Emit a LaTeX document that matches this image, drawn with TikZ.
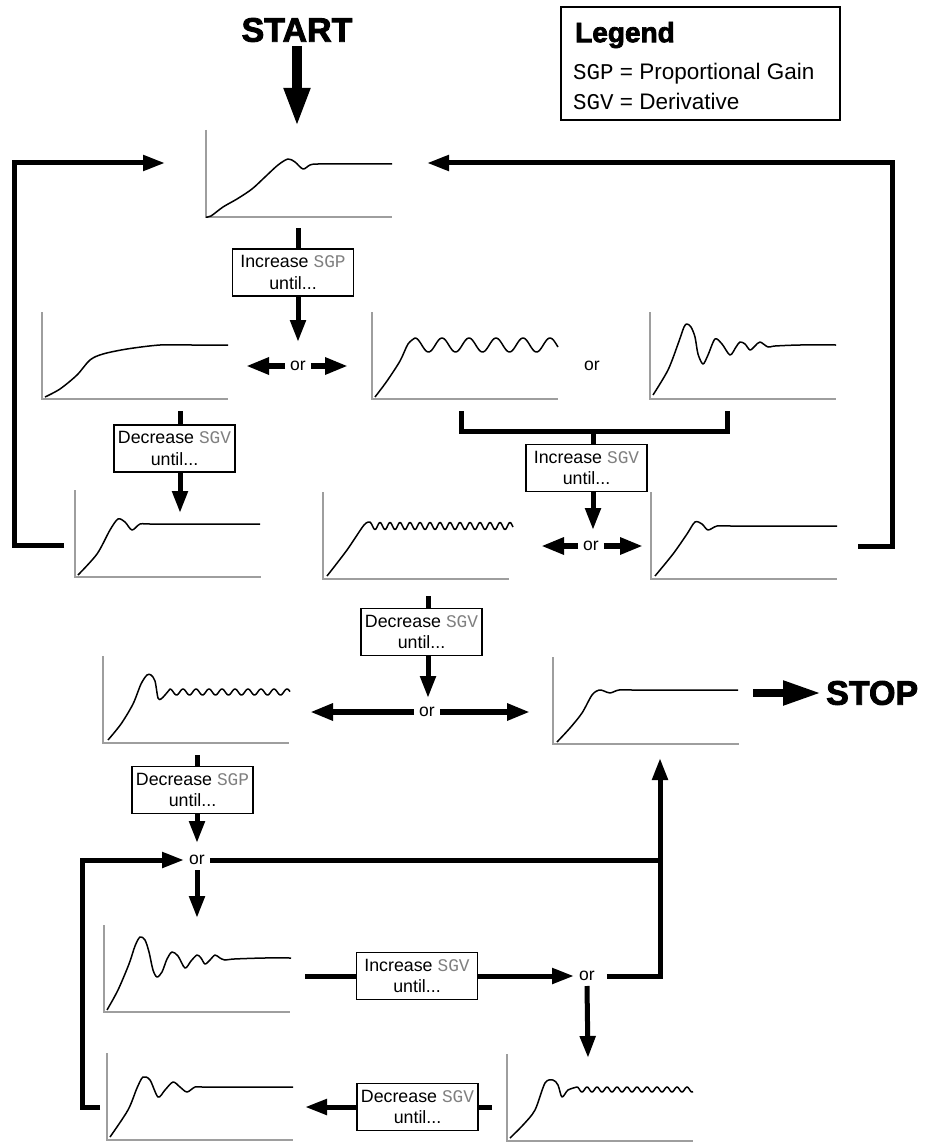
\documentclass[tikz,border=0pt]{standalone}
\usepackage{fontspec}
\setmainfont{Liberation Sans}
\newfontfamily\monofont{Liberation Mono}
\newfontfamily\heavyfont{Liberation Sans}[BoldFeatures={FakeBold=2.6}]
\usetikzlibrary{arrows.meta,calc,positioning}
\tikzset{
  axisline/.style={draw=black!38, line width=2.6pt},
  curveline/.style={draw=black, line width=1.5pt, line join=round},
  flowline/.style={line width=5pt},
  flowarrow/.style={flowline, -{Triangle[length=22pt,width=15pt]}},
  orarrow/.style={line width=6pt, -{Triangle[length=23pt,width=16pt]}},
  startarrow/.style={line width=10pt, -{Triangle[length=39pt,width=24pt]}},
  stoparrow/.style={line width=8pt, -{Triangle[length=38pt,width=23pt]}},
  stepbox/.style={draw, line width=1.2pt, fill=white, minimum width=121pt,
    minimum height=47pt, inner sep=1pt, align=center,
    font=\fontsize{17.8}{21.5}\selectfont},
  ortext/.style={inner sep=5pt, font=\fontsize{17.5}{21}\selectfont},
  headtext/.style={inner sep=0pt, font=\heavyfont\bfseries\fontsize{34}{37}\selectfont},
  legendbox/.style={draw, line width=1.3pt, minimum width=279pt, minimum height=113pt},
  legendhead/.style={inner sep=0pt, anchor=west, font=\heavyfont\bfseries\fontsize{28}{32}\selectfont},
  legendtext/.style={inner sep=0pt, anchor=west, font=\fontsize{22.5}{27}\selectfont}
}
\newcommand{\regname}[1]{{\monofont\color{black!50}#1}}
% one step-response sketch: name, axis corner x, axis corner y, curve path
\newcommand{\respplot}[4]{%
  \coordinate (#1) at (#2,#3);
  \draw[axisline] (#2,{#3-87}) |- ({#2+186},#3);
  \begin{scope}[shift={(#1)}, yscale=-1]
    \draw[curveline] #4;
  \end{scope}
}

\begin{document}
\begin{tikzpicture}[x=1pt,y=-1pt]
  \useasboundingbox (0,0) rectangle (932,1142);

  % response sketches
  \respplot{resp-top}{206}{217}{plot[smooth] coordinates {(0,0) (5,1) (17,10) (31,18) (46,28) (59,40) (72,52) (82,58) (89,55) (97,48) (104,52) (112,53) (150,53) (186,53)}}
  \respplot{resp-slow}{42}{399}{plot[smooth] coordinates {(3,2) (18,10) (35,24) (48,39) (61,45) (85,50) (118,54) (150,54) (186,54)}}
  \respplot{resp-osc}{372}{399}{plot[smooth] coordinates {(3,2) (15,18) (28,38) (36,55) (43,61)} -- plot[domain=43:186, samples=120, smooth] (\x,{54+7*cos(13.333*(\x-43))})}
  \respplot{resp-ring}{650}{399}{plot[smooth] coordinates {(3,4) (18,29) (28,55) (34,72) (37,75) (41,72) (45,62) (48,45) (53,35) (58,44) (65,60) (72,55) (80,44) (86,52) (90,57) (95,55) (100,49) (105,53) (110,57) (118,52) (125,53) (150,54) (186,54)}}
  \respplot{resp-tuned}{75}{577}{plot[smooth] coordinates {(3,2) (22,23) (35,47) (43,58) (50,55) (57,47) (65,53) (75,53) (130,53) (185,53)}}
  \respplot{resp-ripple}{323}{579}{plot[smooth] coordinates {(4,3) (24,29) (41,54) (47,57)} -- plot[domain=47:190, samples=170, smooth] (\x,{53+3.5*cos(36*(\x-47))})}
  \respplot{resp-tunedb}{651}{579}{plot[smooth] coordinates {(4,3) (22,25) (36,45) (44,57) (51,55) (57,49) (66,53) (80,53) (130,53) (186,53)}}
  \respplot{resp-spike}{103}{743}{plot[smooth] coordinates {(5,3) (18,19) (30,39) (38,59) (44,68) (48,68) (52,62) (55,45) (58,44) (62,48) (67,54)} -- plot[domain=67:187, samples=150, smooth] (\x,{51+3*cos(27.69*(\x-67))})}
  \respplot{resp-final}{553}{744}{plot[smooth] coordinates {(4,2) (17,16) (29,31) (39,49) (46,54) (51,53) (57,51) (66,54) (80,54) (130,54) (185,54)}}
  \respplot{resp-ringb}{104}{1012}{plot[smooth] coordinates {(3,2) (14,22) (25,48) (31,66) (36,75) (41,72) (45,60) (49,42) (53,35) (58,40) (63,53) (68,60) (74,56) (81,44) (87,51) (93,57) (97,54) (101,48) (106,52) (111,57) (116,54) (121,52) (130,53) (160,54) (187,54)}}
  \respplot{resp-rippleb}{507}{1141}{plot[smooth] coordinates {(3,3) (16,16) (28,31) (38,58) (46,61) (51,56) (55,44) (61,51) (70,54)} -- plot[domain=70:186, samples=140, smooth] (\x,{51.5+2.5*cos(36*(\x-70))})}
  \respplot{resp-ringc}{107}{1140}{plot[smooth] coordinates {(3,3) (21,30) (30,52) (36,63) (43,60) (51,43) (58,50) (66,58) (73,53) (80,48) (88,53) (96,53) (140,53) (186,53)}}

  % headings and legend
  \node[headtext] (start) at (297,30) {START};
  \node[headtext, anchor=west] (stop) at (826,693) {STOP};
  \node[legendbox] (legend) at (700.5,63.5) {};
  \node[legendhead] (legend-title) at (575,35) {Legend};
  \node[legendtext] (legend-sgp) at (573,74) {{\monofont SGP} = Proportional Gain};
  \node[legendtext] (legend-sgv) at (573,101) {{\monofont SGV} = Derivative};

  % tuning steps
  \node[stepbox] (incSGP) at (293,272.5) {Increase \regname{SGP}\\until...};
  \node[stepbox] (decSGVa) at (174.5,448.5) {Decrease \regname{SGV}\\until...};
  \node[stepbox] (incSGVa) at (586.5,468) {Increase \regname{SGV}\\until...};
  \node[stepbox] (decSGVb) at (421.5,632) {Decrease \regname{SGV}\\until...};
  \node[stepbox] (decSGP) at (192.5,790) {Decrease \regname{SGP}\\until...};
  \node[stepbox] (incSGVb) at (417,976) {Increase \regname{SGV}\\until...};
  \node[stepbox] (decSGVc) at (417.5,1107) {Decrease \regname{SGV}\\until...};

  % branch points
  \node[ortext] (orA) at (298,366) {or};
  \node[ortext] (orB) at (592,366) {or};
  \node[ortext] (orC) at (591,546) {or};
  \node[ortext] (orD) at (427,712) {or};
  \node[ortext] (orE) at (197,860) {or};
  \node[ortext] (orF) at (587,976) {or};

  % free ends of connectors
  \coordinate (top-in) at (297,127);
  \coordinate (top-out) at (298,228);
  \coordinate (orA-in) at (298,342);
  \coordinate (orA-l) at (246,366);
  \coordinate (orA-r) at (348,366);
  \coordinate (slow-out) at (180,411);
  \coordinate (tuned-in) at (180,513);
  \coordinate (brk-l) at (461,411);
  \coordinate (brk-r) at (727,411);
  \coordinate (brk-m) at (593,431);
  \coordinate (orC-in) at (593,530);
  \coordinate (orC-l) at (541,546);
  \coordinate (orC-r) at (643,546);
  \coordinate (loopL-out) at (64,545);
  \coordinate (loopL-in) at (165,163);
  \coordinate (loopR-out) at (858,546);
  \coordinate (loopR-in) at (427,163);
  \coordinate (ripple-out) at (428,596);
  \coordinate (orD-in) at (428,698);
  \coordinate (orD-l) at (310,712);
  \coordinate (orD-r) at (530,712);
  \coordinate (final-out) at (753,693);
  \coordinate (spike-out) at (197,755);
  \coordinate (orE-in) at (197,843);
  \coordinate (ringb-in) at (197,918);
  \coordinate (final-in) at (660,758);
  \coordinate (ringb-out) at (305,976);
  \coordinate (rippleb-in) at (588,1058);
  \coordinate (rippleb-out) at (492,1107);
  \coordinate (ringc-in) at (305,1107);
  \coordinate (loopB-out) at (100,1107);

  % connectors
  \draw[startarrow] (start.south) ++(0,4) -- (top-in);
  \draw[stoparrow] (final-out) -- ([xshift=-5pt]stop.west);
  \draw[flowarrow] (loopL-out) -- ++(-50,0) |- (loopL-in);
  \draw[flowarrow] (loopR-out) -- ++(34,0) |- (loopR-in);
  \draw[flowline] (top-out) -- (top-out |- incSGP.north);
  \draw[flowarrow] (top-out |- incSGP.south) -- (orA-in);
  \draw[orarrow] (orA.west) -- (orA-l);
  \draw[orarrow] (orA.east) -- (orA-r);
  \draw[flowline] (slow-out) -- (slow-out |- decSGVa.north);
  \draw[flowarrow] (slow-out |- decSGVa.south) -- (tuned-in);
  \draw[flowline] (brk-l) |- (brk-m) -| (brk-r);
  \draw[flowline] (brk-m) -- (brk-m |- incSGVa.north);
  \draw[flowarrow] (brk-m |- incSGVa.south) -- (orC-in);
  \draw[orarrow] (orC.west) -- (orC-l);
  \draw[orarrow] (orC.east) -- (orC-r);
  \draw[flowline] (ripple-out) -- (ripple-out |- decSGVb.north);
  \draw[flowarrow] (ripple-out |- decSGVb.south) -- (orD-in);
  \draw[orarrow] (orD.west) -- (orD-l);
  \draw[orarrow] (orD.east) -- (orD-r);
  \draw[flowline] (spike-out) -- (spike-out |- decSGP.north);
  \draw[flowarrow] (spike-out |- decSGP.south) -- (orE-in);
  \draw[flowarrow] (orE.south) -- (ringb-in);
  \draw[flowarrow] (loopB-out) -- ++(-18,0) |- (orE.west);
  \draw[flowline] (orE.east) -- (orE.east -| final-in);
  \draw[flowline] (ringb-out) -- (ringb-out -| incSGVb.west);
  \draw[flowarrow] (ringb-out -| incSGVb.east) -- (orF.west);
  \draw[flowarrow, shorten <=7pt] (orF.east) -| (final-in);
  \draw[flowarrow] (orF.south) -- (rippleb-in);
  \draw[flowline] (rippleb-out) -- (rippleb-out -| decSGVc.east);
  \draw[flowarrow] (rippleb-out -| decSGVc.west) -- (ringc-in);
\end{tikzpicture}
\end{document}
